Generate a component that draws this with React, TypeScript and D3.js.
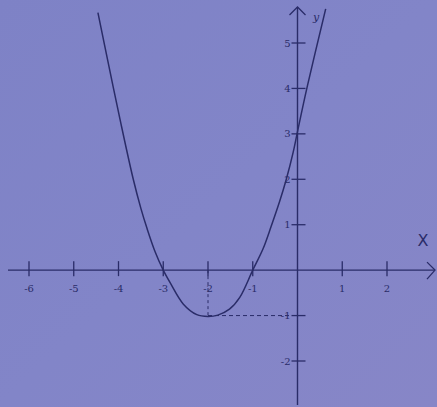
import React from "react";
import * as d3 from "d3";

const W = 437;
const H = 407;

// Points read along the hand-drawn parabola (data coordinates)
const curveX = [-4.46, -4.21, -3.96, -3.67, -3.5, -3.36, -3.18, -3.0, -2.85, -2.55, -2.25, -2.0, -1.78, -1.52, -1.29, -1.0, -0.77, -0.59, -0.4, -0.25, -0.1, 0, 0.22, 0.63];
const curveY = [5.67, 4.47, 3.29, 2.0, 1.36, 0.91, 0.4, 0, -0.27, -0.75, -0.98, -1.02, -0.99, -0.86, -0.6, 0, 0.47, 0.96, 1.51, 2.0, 2.58, 3.05, 4.05, 5.75];

const xTicks = [-6, -5, -4, -3, -2, -1, 1, 2];
const xTickLabels = ["-6", "-5", "-4", "-3", "-2", "-1", "1", "2"];
const yTicks = [5, 4, 3, 2, 1, -1, -2];
const yTickLabels = ["5", "4", "3", "2", "1", "-1", "-2"];
const vertex = { x: -2, y: -1 };

export default function App() {
  const x = d3.scaleLinear().domain([-6, 2]).range([29, 387]);
  const y = d3.scaleLinear().domain([-2, 5]).range([361, 43]);
  const ink = "#2a2c68";
  const pts: [number, number][] = curveX.map((v, i) => [v, curveY[i]]);
  const line = d3
    .line<[number, number]>()
    .x((d) => x(d[0]))
    .y((d) => y(d[1]))
    .curve(d3.curveCatmullRom.alpha(0.5));
  const x0 = x(0);
  const y0 = y(0);
  return (
    <div style={{ position: "fixed", left: 0, top: 0, width: W, height: H }}>
      <svg width={W} height={H} style={{ display: "block" }}>
        <defs>
          <linearGradient id="bg" x1="0" y1="0" x2="1" y2="1">
            <stop offset="0" stopColor="#7e82c6" />
            <stop offset="0.5" stopColor="#8285c8" />
            <stop offset="1" stopColor="#8786c7" />
          </linearGradient>
        </defs>
        <rect x={0} y={0} width={W} height={H} fill="url(#bg)" />
        {/* x axis */}
        <line x1={8} x2={434} y1={y0} y2={y0} stroke={ink} strokeWidth={1.4} />
        <path d={`M${427},${y0 - 8} L${435},${y0} L${427},${y0 + 9}`} fill="none" stroke={ink} strokeWidth={1.3} />
        {/* y axis */}
        <line x1={x0} x2={x0} y1={7} y2={405} stroke={ink} strokeWidth={1.4} />
        <path d={`M${x0 - 8},${15} L${x0},${7} L${x0 + 8},${15}`} fill="none" stroke={ink} strokeWidth={1.3} />
        {/* x ticks */}
        {xTicks.map((t, i) => (
          <g key={"xt" + i}>
            <line x1={x(t)} x2={x(t)} y1={y0 - 9} y2={y0 + 6} stroke={ink} strokeWidth={1.3} />
            <text x={x(t)} y={y0 + 22} fontFamily="DejaVu Serif" fontSize={10} fill={ink} textAnchor="middle">
              {xTickLabels[i]}
            </text>
          </g>
        ))}
        {/* y ticks */}
        {yTicks.map((t, i) => (
          <g key={"yt" + i}>
            <line x1={x0 - 6} x2={x0 + 8} y1={y(t)} y2={y(t)} stroke={ink} strokeWidth={1.3} />
            <text x={x0 - 7} y={y(t) + 3.5} fontFamily="DejaVu Serif" fontSize={10} fill={ink} textAnchor="end">
              {yTickLabels[i]}
            </text>
          </g>
        ))}
        {/* dashed guides to vertex */}
        <line x1={x(vertex.x)} x2={x(vertex.x)} y1={y0} y2={y(vertex.y)} stroke={ink} strokeWidth={1} strokeDasharray="3,3" />
        <line x1={x(vertex.x)} x2={x0 - 7} y1={y(vertex.y)} y2={y(vertex.y)} stroke={ink} strokeWidth={1} strokeDasharray="4,3" />
        {/* parabola */}
        <path d={line(pts) || ""} fill="none" stroke={ink} strokeWidth={1.5} />
        {/* axis labels */}
        <text x={423} y={246} fontFamily="DejaVu Sans" fontSize={16} fill={ink} textAnchor="middle">X</text>
        <text x={316} y={21} fontFamily="DejaVu Serif" fontStyle="italic" fontSize={11} fill={ink} textAnchor="middle">y</text>
      </svg>
    </div>
  );
}
